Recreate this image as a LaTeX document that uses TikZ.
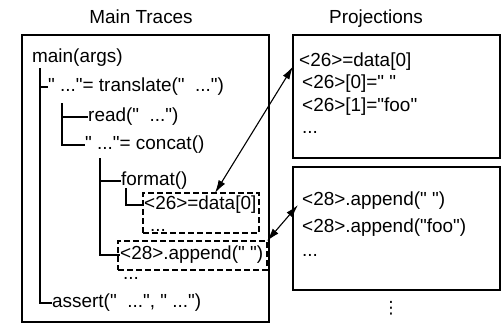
\documentclass[tikz,border=0pt]{standalone}
\usepackage{fontspec}
\setmainfont{Liberation Sans}[Ligatures=TeXOff]
\newfontfamily\symfont{DejaVu Sans}
\usetikzlibrary{calc,arrows.meta}

\begin{document}
\begin{tikzpicture}[x=1bp,y=-1bp,
    txt/.style={inner sep=0pt,anchor=west,text height=13bp,text depth=4bp,
      font=\fontsize{19}{22}\selectfont},
    title/.style={inner sep=0pt,anchor=base,font=\fontsize{19}{22}\selectfont},
    frame/.style={draw,line width=1.2bp,inner sep=0pt,outer sep=0pt},
    dashbox/.style={frame,dash pattern=on 6bp off 3bp},
    link/.style={<->,>={Latex[length=13bp,width=7.5bp]},line width=1.1bp},
    tree/.style={line width=1.1bp}]
  \useasboundingbox (0,0) rectangle (502,325);

  % headings
  \node[title] (htraces) at (141,23) {Main Traces};
  \node[title] (hproj) at (376,23) {Projections};

  % frames
  \node[frame,minimum width=247bp,minimum height=287bp] (traces) at (145.5,178.5) {};
  \node[frame,minimum width=207bp,minimum height=123bp] (proj26) at (396.5,96.5) {};
  \node[frame,minimum width=207bp,minimum height=123bp] (proj28) at (396.5,228.5) {};
  \node[dashbox,minimum width=116bp,minimum height=40bp] (box26) at (201,213) {};
  \node[dashbox,minimum width=149bp,minimum height=29bp] (box28) at (192.5,255.5) {};

  % call tree
  \node[txt] (main) at (32,58) {main(args)};
  \node[txt] (trans) at (48,87) {"~..."=~translate("~~...")};
  \node[txt] (read) at (88,117) {read("~~...")};
  \node[txt] (concat) at (85,145) {"~..."=~concat()};
  \node[txt] (format) at (121,181) {format()};
  \node[txt] (d26) at (144,205) {<26>=data[0]};
  \node[txt] (d26more) at (150,226.5) {...};
  \node[txt] (a28) at (120,255) {<28>.append("~")};
  \node[txt] (a28more) at (123,274.5) {...};
  \node[txt] (assert) at (52,303) {assert("~~...",~"~...")};

  \coordinate (s0) at (40,68);
  \coordinate (s1) at (62,103);
  \coordinate (s2) at (100,158);
  \coordinate (s3) at (126,188);
  \draw[tree] (s0) |- (trans.west);
  \draw[tree] (s0) |- (assert.west);
  \draw[tree] (s1) |- (read.west);
  \draw[tree] (s1) |- (concat.west);
  \draw[tree] (s2) |- (format.west);
  \draw[tree] (s2) |- (a28.west);
  \draw[tree] (s3) |- (d26.west);

  % projected values
  \node[txt] (r26a) at (299,62) {<26>=data[0]};
  \node[txt] (r26b) at (302,84) {<26>[0]="~"};
  \node[txt] (r26c) at (302,107) {<26>[1]="foo"};
  \node[txt] (r26d) at (302,128.5) {...};
  \node[txt] (r28a) at (302,200.5) {<28>.append("~")};
  \node[txt] (r28b) at (302,227.5) {<28>.append("foo")};
  \node[txt] (r28c) at (302,251.5) {...};
  \node[inner sep=0pt,font=\symfont\fontsize{17}{20}\selectfont] (more) at (391,308) {⋮};

  \draw[link] (box26.55) -- ($(r26a.base west)+(-6,0)$);
  \draw[link] (box28.north east) -- ($(r28a.base west)+(-4,0)$);
\end{tikzpicture}
\end{document}
